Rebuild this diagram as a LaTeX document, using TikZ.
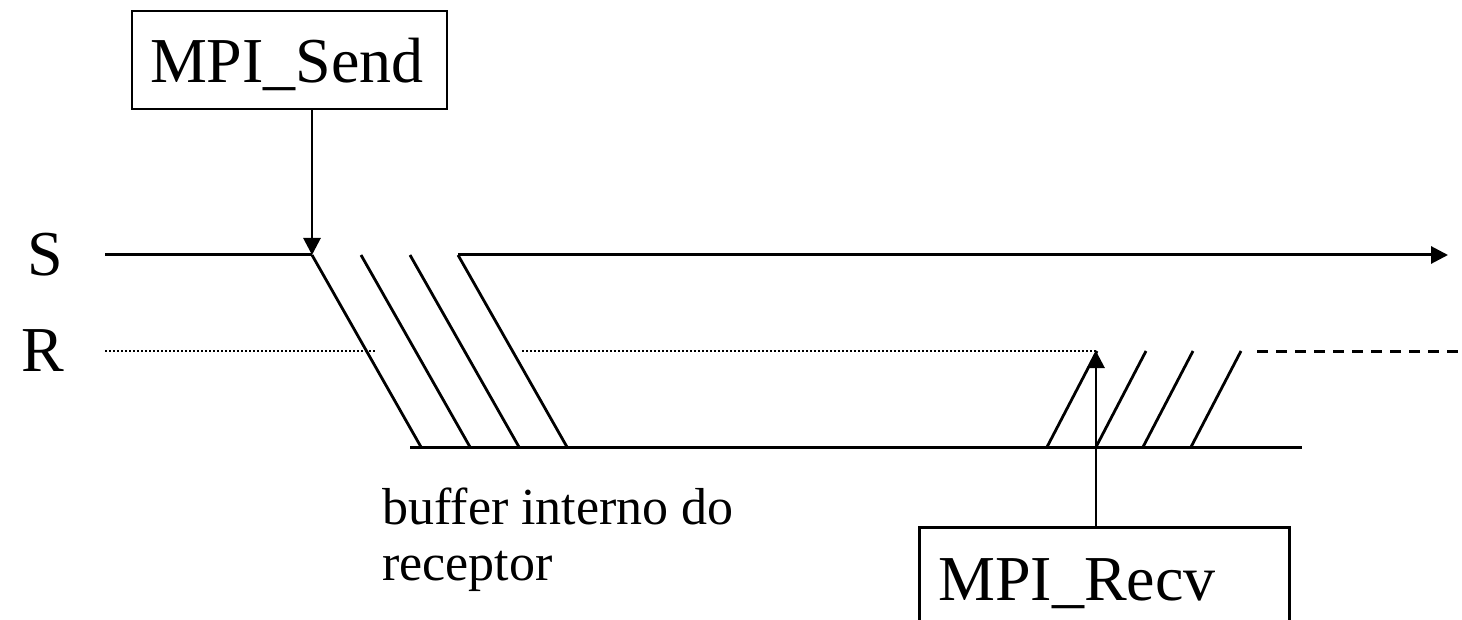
\documentclass[tikz,border=0pt]{standalone}
\usepackage{fontspec}
\setmainfont{Liberation Serif}
\usetikzlibrary{arrows.meta}

\begin{document}
\begin{tikzpicture}[x=0.5pt,y=-0.5pt,
    bigtext/.style={font=\fontsize{32pt}{36pt}\selectfont, inner sep=0pt},
    smalltext/.style={font=\fontsize{26pt}{30pt}\selectfont, inner sep=0pt},
    frame/.style={draw, line width=1.4pt, inner sep=0pt},
    timeline/.style={line width=1.5pt},
    msg/.style={line width=1.4pt},
    idle/.style={line width=1.1pt, dash pattern=on 1pt off 1pt},
    later/.style={line width=1.5pt, dash pattern=on 5.5pt off 4pt},
    tip/.style={-{Triangle[length=8.5pt,width=8.5pt]}}]
  \useasboundingbox (0,0) rectangle (1462,620);
  \clip (0,0) rectangle (1462,620);

  % process labels
  \node[bigtext] (S) at (45,255) {S};
  \node[bigtext] (R) at (43,351) {R};

  % sender time line and the receiver's idle time line
  \coordinate (s0) at (105,255);
  \coordinate (s1) at (312,255);
  \coordinate (s2) at (361,255);
  \coordinate (s3) at (410,255);
  \coordinate (s4) at (458,255);
  \coordinate (send) at (1448,255);
  \draw[timeline] (s0) -- (s1);
  \draw[timeline, tip] (s4) -- (send);

  \coordinate (r0) at (105,351);
  \coordinate (r1) at (375,351);
  \coordinate (r2) at (522,351);
  \coordinate (r3) at (1096,351);
  \draw[idle] (r0) -- (r1);
  \draw[idle] (r2) -- (r3);

  % receiver's internal buffer
  \coordinate (b0) at (410,447);
  \coordinate (b1) at (1302,447);
  \draw[timeline] (b0) -- (b1);

  % data copied from the sender into the buffer
  \foreach \i in {1,...,4}{
    \draw[msg] (s\i) -- ++(109,192);
  }

  % data copied from the buffer to the receiver
  \coordinate (u1) at (1047,447);
  \coordinate (u2) at (1096,447);
  \coordinate (u3) at (1143,447);
  \coordinate (u4) at (1191,447);
  \foreach \i in {1,...,4}{
    \draw[msg] (u\i) -- ++(50,-96);
  }

  % receiver continues
  \coordinate (r4) at (1257,351);
  \coordinate (rend) at (1462,351);
  \draw[later] (r4) -- (rend);

  % MPI_Send call
  \node[frame, minimum width=157.5pt, minimum height=49pt] (sendbox) at (289.5,60) {};
  \node[bigtext, anchor=base] (sendtxt) at (287,83) {MPI\_Send};
  \draw[line width=1.4pt, tip] (sendbox.south -| s1) -- (s1);

  % MPI_Recv call
  \node[frame, anchor=north west, minimum width=185pt, minimum height=70pt] (recvbox) at (918,526) {};
  \node[bigtext, anchor=base west] (recvtxt) at (938,600) {MPI\_Recv};
  \draw[line width=1.4pt, tip] (recvbox.north -| r3) -- (r3);

  % buffer caption
  \node[smalltext, anchor=base west] (buf1) at (382,524) {buffer interno do};
  \node[smalltext, anchor=base west] (buf2) at (382,580) {receptor};
\end{tikzpicture}
\end{document}
